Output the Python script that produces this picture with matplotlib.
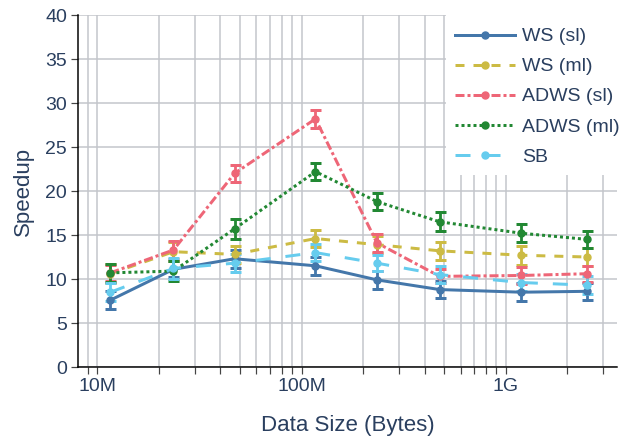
import matplotlib
matplotlib.use("Agg")
import matplotlib.pyplot as plt
from matplotlib.lines import Line2D
from matplotlib.patches import Rectangle
from matplotlib.ticker import FixedLocator, NullLocator, FixedFormatter

plt.rcParams['font.family'] = ['Liberation Sans', 'DejaVu Sans']

# Data size (bytes) for each measurement
sizes = [11.6e6, 23.6e6, 47e6, 117e6, 234e6, 474e6, 1.19e9, 2.5e9]

ws_sl = [7.6, 11.1, 12.3, 11.5, 9.9, 8.8, 8.5, 8.6]
ws_sl_err = [1.0, 0.9, 1.0, 1.0, 1.0, 1.0, 1.0, 1.0]

ws_ml = [10.6, 13.1, 12.8, 14.6, 13.9, 13.2, 12.7, 12.5]
ws_ml_err = [1.1, 1.1, 1.0, 1.0, 1.0, 1.0, 1.1, 1.0]

adws_sl = [10.7, 13.3, 22.0, 28.2, 14.1, 10.3, 10.4, 10.6]
adws_sl_err = [0.9, 1.0, 1.0, 1.0, 1.0, 0.8, 1.0, 0.9]

adws_ml = [10.7, 10.9, 15.7, 22.2, 18.8, 16.5, 15.2, 14.5]
adws_ml_err = [1.0, 1.1, 1.1, 1.0, 1.0, 1.1, 1.0, 1.0]

sb = [8.5, 11.2, 11.8, 13.0, 11.8, 10.5, 9.6, 9.3]
sb_err = [1.0, 1.2, 1.0, 1.0, 0.9, 1.0, 1.0, 1.0]

series_names = ["WS (sl)", "WS (ml)", "ADWS (sl)", "ADWS (ml)", "SB"]
series_vals = [ws_sl, ws_ml, adws_sl, adws_ml, sb]
series_errs = [ws_sl_err, ws_ml_err, adws_sl_err, adws_ml_err, sb_err]
colors = ["#4477AA", "#CCBB44", "#EE6677", "#228833", "#66CCEE"]
styles = ["-", (0, (3, 3)), (0, (3, 1, 1, 1)), (0, (1, 1)), (0, (5, 5))]

yticks = [0, 5, 10, 15, 20, 25, 30, 35, 40]
decade_labels = {1e7: "10M", 1e8: "100M", 1e9: "1G"}

TXT = "#2a3f5f"
GRID = "#c3c5cb"
PX = 72 / 100.0  # points per pixel

W, H = 630, 442
fig = plt.figure(figsize=(W / 100, H / 100), dpi=100)
L, R, T, B = 78, 617, 15, 367
ax = fig.add_axes([L / W, 1 - B / H, (R - L) / W, (B - T) / H])

ax.set_xscale("log")
ax.set_xlim(8.05e6, 3.5e9)
ax.set_ylim(0, 40)

# ticks at every 1..9 multiple of each decade, labels only on decades
tick_pos = []
for e in range(6, 10):
    for m in range(1, 10):
        v = m * 10.0 ** e
        if 8.05e6 <= v <= 3.5e9:
            tick_pos.append(v)
tick_lab = [decade_labels.get(v, "") for v in tick_pos]
ax.xaxis.set_major_locator(FixedLocator(tick_pos))
ax.xaxis.set_major_formatter(FixedFormatter(tick_lab))
ax.xaxis.set_minor_locator(NullLocator())
ax.set_yticks(yticks)

ax.grid(True, color=GRID, lw=1.5 * PX, zorder=0)
ax.set_axisbelow(True)
for s in ["top", "right"]:
    ax.spines[s].set_visible(False)
for s in ["left", "bottom"]:
    ax.spines[s].set_color("black")
    ax.spines[s].set_linewidth(1.5 * PX)

ax.tick_params(axis="both", which="major", direction="out", length=5,
               width=1.2 * PX, color="#444444", labelcolor=TXT, labelsize=14,
               pad=3)

for name, vals, errs, c, ls in zip(series_names, series_vals, series_errs,
                                   colors, styles):
    ax.errorbar(sizes, vals, yerr=errs, color=c, lw=3 * PX, ls=ls,
                marker="o", ms=7 * PX, capsize=5.5 * PX, capthick=3 * PX,
                elinewidth=2.8 * PX, dash_capstyle="butt")

ax.set_xlabel("Data Size (Bytes)", fontsize=16, color=TXT, labelpad=14)
ax.set_ylabel("Speedup", fontsize=16, color=TXT, labelpad=8)

# white panel behind the legend
fig.add_artist(Rectangle((446 / W, 1 - 175 / H), (W - 446) / W, 161 / H,
                         transform=fig.transFigure, facecolor="white",
                         edgecolor="none", zorder=5))

handles = [Line2D([0], [0], color=c, lw=3 * PX, ls=ls, marker="o",
                  ms=7 * PX, dash_capstyle="butt")
           for c, ls in zip(colors, styles)]
leg = ax.legend(handles, series_names, loc="upper left",
                bbox_to_anchor=(446 / W, 1 - 19 / H),
                bbox_transform=fig.transFigure, frameon=False,
                fontsize=14, handlelength=3.1,
                handletextpad=0.36, labelspacing=0.64, borderpad=0.45,
                borderaxespad=0, labelcolor=TXT)
leg.remove()
fig.add_artist(leg)
leg.set_zorder(10)

fig.savefig("out.png", dpi=100)
